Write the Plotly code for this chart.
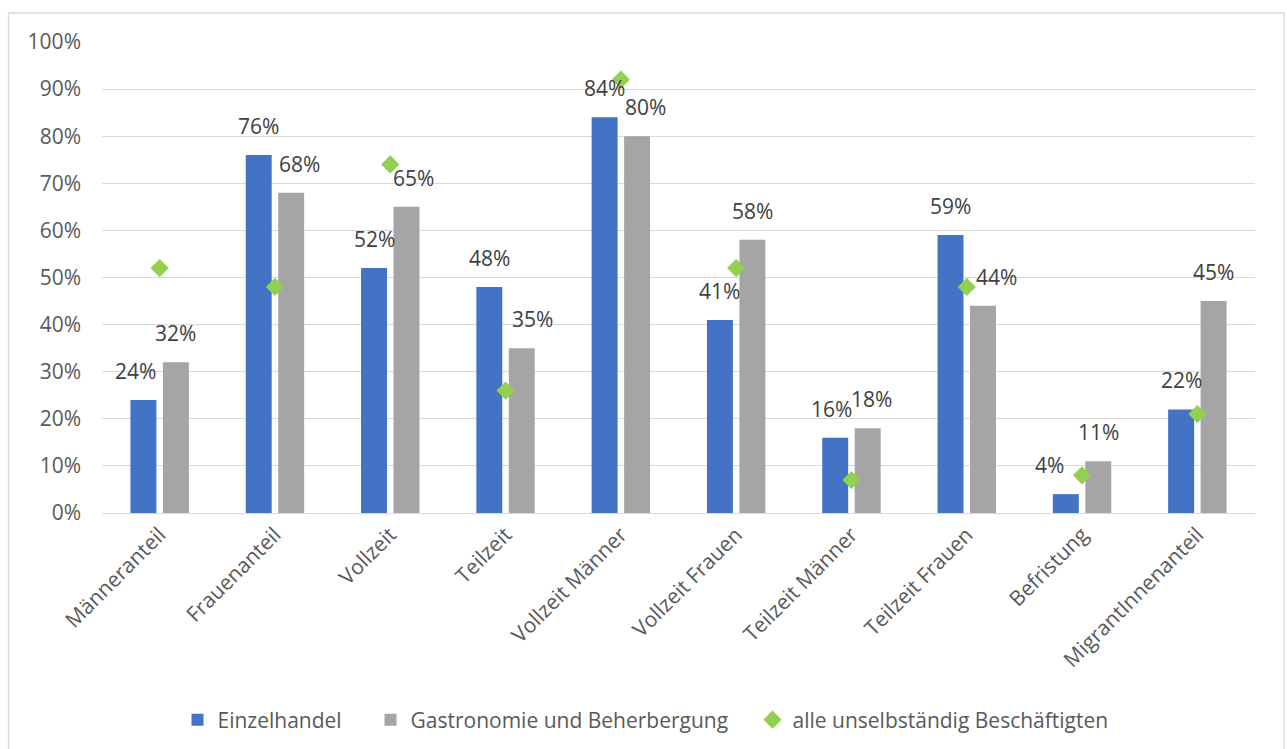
import plotly.graph_objects as go

categories = ["Männeranteil", "Frauenanteil", "Vollzeit", "Teilzeit", "Vollzeit Männer",
              "Vollzeit Frauen", "Teilzeit Männer", "Teilzeit Frauen", "Befristung", "MigrantInnenanteil"]
einzelhandel = [24, 76, 52, 48, 84, 41, 16, 59, 4, 22]
gastronomie = [32, 68, 65, 35, 80, 58, 18, 44, 11, 45]
alle = [52, 48, 74, 26, 92, 52, 7, 48, 8, 21]
y_ticks = list(range(0, 101, 10))
y_tick_labels = [f"{v}%" for v in y_ticks]

# label placement nudges in pixels (style only, as placed in the source chart)
nudge_einzel = {"Männeranteil": -8, "Teilzeit Männer": -4, "Befristung": -16}
nudge_gastro = {"Frauenanteil": 8, "Vollzeit": 7, "Teilzeit": 11, "Vollzeit Männer": 8,
                "Teilzeit Männer": 4, "Teilzeit Frauen": 13}

W, H = 1287, 749
ML, MR, MT, MB = 102, 32, 42, 236
PW, PH = W - ML - MR, H - MT - MB

FONT = "Open Sans"
FS = 21
AXIS_COLOR = "#595959"
LABEL_COLOR = "#404040"

fig = go.Figure()
fig.add_trace(go.Bar(name="Einzelhandel", x=categories, y=einzelhandel, legend="legend",
                     marker=dict(color="#4472C4", line=dict(width=0))))
fig.add_trace(go.Bar(name="Gastronomie und Beherbergung", x=categories, y=gastronomie,
                     legend="legend2", marker=dict(color="#A5A5A5", line=dict(width=0))))
fig.add_trace(go.Scatter(name="alle unselbständig Beschäftigten", x=categories, y=alle,
                         mode="markers", legend="legend3",
                         marker=dict(symbol="diamond", size=14, color="#92D050")))

annotations = []
for series, shift, nudge in ((einzelhandel, -16.25, nudge_einzel), (gastronomie, 16.25, nudge_gastro)):
    for c, v in zip(categories, series):
        annotations.append(dict(x=c, y=v, xref="x", yref="y", text=f"{v}%",
                                showarrow=False, xshift=shift + nudge.get(c, 0), yshift=13,
                                yanchor="bottom", xanchor="center",
                                font=dict(family=FONT, size=FS, color=LABEL_COLOR)))

legend_y = -(720 - (H - MB)) / PH


def leg(px_left):
    return dict(orientation="h", x=(px_left - ML) / PW, xanchor="left", y=legend_y,
                yanchor="middle", font=dict(family=FONT, size=FS, color=AXIS_COLOR),
                itemwidth=30, bgcolor="rgba(0,0,0,0)", borderwidth=0)


fig.update_layout(
    width=W, height=H,
    margin=dict(l=ML, r=MR, t=MT, b=MB, autoexpand=False),
    paper_bgcolor="white", plot_bgcolor="white",
    barmode="group", bargap=0.437, bargroupgap=0.2,
    font=dict(family=FONT, size=FS, color=AXIS_COLOR),
    showlegend=True,
    legend=leg(177.5), legend2=leg(370.5), legend3=leg(752.5),
    annotations=annotations,
    shapes=[dict(type="rect", xref="paper", yref="paper",
                 x0=(8.5 - ML) / PW, x1=(1284 - ML) / PW,
                 y0=(H - MB - 770) / PH, y1=(H - MB - 13) / PH,
                 line=dict(color="#D9D9D9", width=1.3), fillcolor="rgba(0,0,0,0)", layer="below")],
)
fig.update_yaxes(range=[0, 100], tickvals=y_ticks, ticktext=y_tick_labels,
                 showgrid=True, gridcolor="#D9D9D9", gridwidth=1.3,
                 zeroline=False, showline=False, ticks="", ticklabelstandoff=20,
                 tickfont=dict(family=FONT, size=FS, color=AXIS_COLOR))
fig.update_xaxes(range=[-0.5, len(categories) - 0.5], autorange=False,
                 tickangle=-45, showline=True, linecolor="#D9D9D9", linewidth=1.3,
                 ticks="", tickfont=dict(family=FONT, size=FS, color=AXIS_COLOR))

fig.write_html("out.html")
